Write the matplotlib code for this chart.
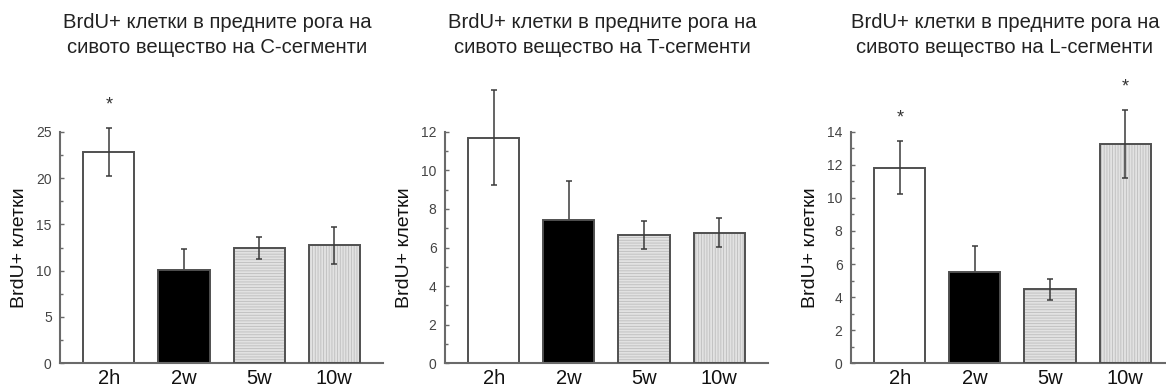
import matplotlib
matplotlib.use("Agg")
import matplotlib.pyplot as plt

plt.rcParams['font.family'] = ['Liberation Sans', 'DejaVu Sans']
plt.rcParams['hatch.linewidth'] = 0.6

groups = ["2h", "2w", "5w", "10w"]

titles = [
    "BrdU+ клетки в предните рога на\nсивото вещество на C-сегменти",
    "BrdU+ клетки в предните рога на\nсивото вещество на T-сегменти",
    "BrdU+ клетки в предните рога на\nсивото вещество на L-сегменти",
]

c_means = [22.8, 10.1, 12.45, 12.75]
c_errs = [2.6, 2.2, 1.2, 2.0]
t_means = [11.7, 7.4, 6.65, 6.77]
t_errs = [2.45, 2.05, 0.74, 0.75]
l_means = [11.83, 5.5, 4.47, 13.26]
l_errs = [1.6, 1.6, 0.62, 2.06]

c_stars = [0]
t_stars = []
l_stars = [0, 3]

y_tops = [25, 12, 14]
y_major = [5, 2, 2]

ylabel = "BrdU+ клетки"

faces = ["white", "black", "#e2e2e2", "#e2e2e2"]
hatches = [None, None, "-" * 6, "|" * 6]

edge_col = "#505050"
axis_col = "#6a6a6a"
err_col = "#3a3a3a"

fig = plt.figure(figsize=(11.66, 3.92), dpi=100)

axes_left = [0.0515, 0.3816, 0.7298]
panels = [
    (c_means, c_errs, c_stars),
    (t_means, t_errs, t_stars),
    (l_means, l_errs, l_stars),
]

for i, (means, errs, stars) in enumerate(panels):
    ax = fig.add_axes([axes_left[i], 0.0732, 0.277, 0.5908])
    xs = list(range(len(groups)))
    for x, m, fc, h in zip(xs, means, faces, hatches):
        if h is not None:
            # hatched fill first, then a dark outline over it
            ax.bar(x, m, width=0.68, color=fc, edgecolor="#bdbdbd",
                   linewidth=0, hatch=h, zorder=2)
            ax.bar(x, m, width=0.68, fill=False, edgecolor=edge_col,
                   linewidth=1.4, zorder=3)
        else:
            ax.bar(x, m, width=0.68, color=fc, edgecolor=edge_col,
                   linewidth=1.4, zorder=2)
    # the black bar hides the lower half of its error bar
    ax.errorbar([xs[1]], [means[1]], yerr=[errs[1]], fmt="none",
                ecolor=err_col, elinewidth=1.1, capsize=2, capthick=1.1,
                zorder=1, clip_on=False)
    others = [x for x in xs if x != 1]
    ax.errorbar(others, [means[x] for x in others],
                yerr=[errs[x] for x in others], fmt="none", ecolor=err_col,
                elinewidth=1.1, capsize=2, capthick=1.1, zorder=4,
                clip_on=False)
    for s in stars:
        ax.text(s, means[s] + errs[s] + y_tops[i] * 0.1, "*",
                ha="center", va="center", fontsize=13, color="#333333",
                clip_on=False)

    ax.set_xlim(-0.65, 3.65)
    ax.set_ylim(0, y_tops[i])
    ax.set_yticks(range(0, y_tops[i] + 1, y_major[i]))
    ax.set_yticks([v + y_major[i] / 2 for v in range(0, y_tops[i], y_major[i])],
                  minor=True)
    ax.set_xticks(xs)
    ax.set_xticklabels(groups, fontsize=14.5, color="#111111")
    ax.tick_params(axis="x", length=0, pad=4)
    ax.tick_params(axis="y", which="major", direction="in", length=3,
                   width=1, color=axis_col, labelsize=10, labelcolor="#444444",
                   pad=6)
    ax.tick_params(axis="y", which="minor", direction="in", length=2,
                   width=1, color=axis_col)
    for side in ("top", "right"):
        ax.spines[side].set_visible(False)
    for side in ("left", "bottom"):
        ax.spines[side].set_color(axis_col)
        ax.spines[side].set_linewidth(1.5)
    ax.set_ylabel(ylabel, fontsize=14, color="#111111", labelpad=6)
    ax.patch.set_alpha(0)

centers = [217, 602, 1005]
for c, t in zip(centers, titles):
    fig.text(c / 1166, 1 - 35 / 392, t, ha="center", va="center",
             fontsize=14.6, color="#222222", linespacing=1.45)

fig.savefig("out.png", dpi=100)
